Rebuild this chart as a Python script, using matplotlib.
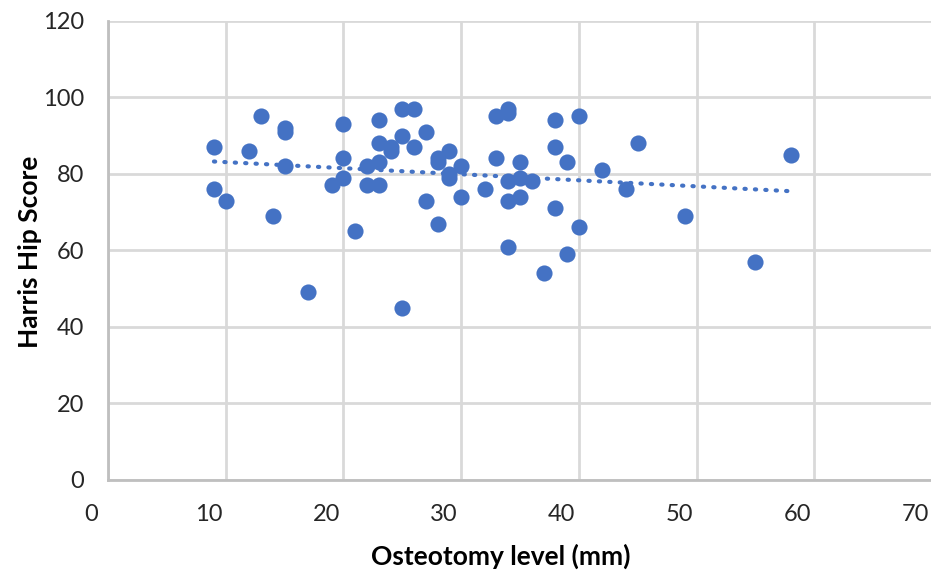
import matplotlib
matplotlib.use("Agg")
import matplotlib.pyplot as plt
import matplotlib.transforms as mtransforms
import numpy as np

# osteotomy level (mm) vs Harris Hip Score
level_mm = [9, 9, 10, 12, 13, 14, 15, 15, 15, 17, 19, 20, 20, 20, 21, 22, 22,
            23, 23, 23, 23, 24, 24, 25, 25, 25, 26, 26, 27, 27, 28, 28, 28, 29,
            29, 29, 30, 30, 32, 33, 33, 34, 34, 34, 34, 34, 35, 35, 35, 36, 37,
            38, 38, 38, 39, 39, 40, 40, 42, 44, 45, 49, 55, 58]
hhs = [87, 76, 73, 86, 95, 69, 92, 91, 82, 49, 77, 93, 84, 79, 65, 82, 77,
       94, 88, 83, 77, 87, 86, 97, 90, 45, 97, 87, 91, 73, 84, 83, 67, 86,
       80, 79, 82, 74, 76, 95, 84, 97, 96, 78, 73, 61, 83, 79, 74, 78, 54,
       94, 87, 71, 83, 59, 95, 66, 81, 76, 88, 69, 57, 85]

x_ticks = [0, 10, 20, 30, 40, 50, 60, 70]
y_ticks = [0, 20, 40, 60, 80, 100, 120]

BLUE = "#4472C4"
GRID = "#D9D9D9"
TEXT = "#262626"

plt.rcParams["font.family"] = ["Lato", "DejaVu Sans"]

fig = plt.figure(figsize=(9.31, 5.76), dpi=100)
W, H = 931, 576
ax = fig.add_axes([108 / W, 1 - 480 / H, (932 - 108) / W, (480 - 20.7) / H])

x = np.array(level_mm, dtype=float)
y = np.array(hhs, dtype=float)

ax.scatter(x, y, s=135, color=BLUE, zorder=3, linewidths=0)

# linear trendline over the data range
slope, intercept = np.polyfit(x, y, 1)
xt = np.array([x.min(), x.max()])
ax.plot(xt, slope * xt + intercept, color=BLUE, linestyle=(0, (0.3, 2.2)),
        linewidth=3, zorder=2, dash_capstyle="round")

ax.set_xlim(0, 70)
ax.set_ylim(0, 120)
ax.set_xticks(x_ticks)
ax.set_yticks(y_ticks)
ax.grid(True, color=GRID, linewidth=2)
ax.set_axisbelow(True)

for side in ["top", "right"]:
    ax.spines[side].set_visible(False)
for side in ["left", "bottom"]:
    ax.spines[side].set_color("#BFBFBF")
    ax.spines[side].set_linewidth(2)

ax.tick_params(axis="both", length=0, labelsize=17, colors=TEXT)
ax.tick_params(axis="x", pad=17)
ax.tick_params(axis="y", pad=17)

# x labels in the reference sit a bit left of their grid lines
shift = mtransforms.ScaledTranslation(-17 / 100, 0, fig.dpi_scale_trans)
for lbl in ax.get_xticklabels():
    lbl.set_transform(lbl.get_transform() + shift)

ax.set_xlabel("Osteotomy level (mm)", fontsize=19, fontweight="bold",
              color="black")
ax.set_ylabel("Harris Hip Score", fontsize=19, fontweight="bold",
              color="black")
ax.xaxis.label.set_va("center")
ax.yaxis.label.set_va("center")
ax.xaxis.set_label_coords(501 / W, 1 - 556 / H, transform=fig.transFigure)
ax.yaxis.set_label_coords(30 / W, 1 - 252 / H, transform=fig.transFigure)

fig.savefig("out.png", dpi=100)
